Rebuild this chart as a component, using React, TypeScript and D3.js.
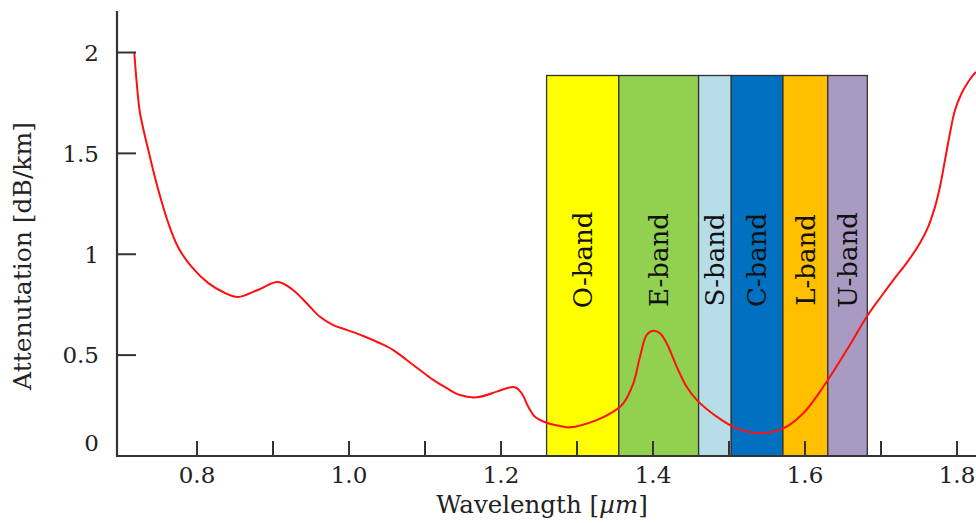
import React from "react";
import * as d3 from "d3";

const wavelengths = [
  0.7175, 0.7207, 0.725, 0.7359, 0.7491, 0.7622, 0.775, 0.793, 0.8145, 0.8368, 0.854,
  0.88, 0.9066, 0.9263, 0.9443, 0.9618, 0.9793, 0.997, 1.0188, 1.0408, 1.0583, 1.0759,
  1.0934, 1.1109, 1.1286, 1.1461, 1.168, 1.1943, 1.2075, 1.2184, 1.2272, 1.2359, 1.2447,
  1.2601, 1.2776, 1.2908, 1.3259, 1.3478, 1.3609, 1.3741, 1.3829, 1.3917, 1.4004, 1.4092,
  1.418, 1.4312, 1.4443, 1.4575, 1.4838, 1.5101, 1.5408, 1.5714, 1.5978, 1.6241, 1.6549,
  1.6812, 1.6987, 1.7162, 1.7338, 1.7513, 1.7622, 1.7711, 1.7776, 1.7842, 1.7908, 1.7974,
  1.8062, 1.8149, 1.8237, 1.837,
];
const attenuation = [
  1.999, 1.849, 1.7, 1.517, 1.318, 1.155, 1.036, 0.937, 0.858, 0.808, 0.788,
  0.823, 0.862, 0.823, 0.757, 0.69, 0.649, 0.625, 0.595, 0.559, 0.525, 0.476,
  0.426, 0.377, 0.336, 0.302, 0.291, 0.319, 0.336, 0.341, 0.311, 0.244, 0.195,
  0.165, 0.149, 0.142, 0.178, 0.22, 0.261, 0.36, 0.492, 0.6, 0.621, 0.608,
  0.559, 0.443, 0.343, 0.278, 0.195, 0.137, 0.113, 0.137, 0.212, 0.343, 0.525,
  0.69, 0.783, 0.872, 0.957, 1.056, 1.137, 1.236, 1.335, 1.467, 1.601, 1.715,
  1.799, 1.855, 1.898, 1.933,
];

const bandNames = ["O-band", "E-band", "S-band", "C-band", "L-band", "U-band"];
const bandStarts = [1.26, 1.355, 1.46, 1.503, 1.571, 1.63];
const bandEnds = [1.355, 1.46, 1.503, 1.571, 1.63, 1.682];
const bandColors = ["#FFFF00", "#92D050", "#B7DDE8", "#0070C0", "#FFC000", "#A89AC0"];
const bandTop = 1.886;

const xTicks = [0.8, 0.9, 1.0, 1.1, 1.2, 1.3, 1.4, 1.5, 1.6, 1.7, 1.8];
const xTickLabels = ["0.8", "", "1.0", "", "1.2", "", "1.4", "", "1.6", "", "1.8"];
const yTicks = [0, 0.5, 1, 1.5, 2];
const yTickLabels = ["0", "0.5", "1", "1.5", "2"];

const W = 976;
const H = 523;
const FONT = "'DejaVu Serif', serif";

export default function App() {
  const x = d3.scaleLinear().domain([0.8, 1.8]).range([197, 957]);
  const y = d3.scaleLinear().domain([0, 2]).range([456, 52.5]);
  const axisX = 117;
  const axisY = y(0);

  const pts: [number, number][] = wavelengths.map((w, i) => [w, attenuation[i]]);
  const line = d3
    .line<[number, number]>()
    .x((d) => x(d[0]))
    .y((d) => y(d[1]))
    .curve(d3.curveCatmullRom.alpha(0.5));

  return (
    <svg
      width={W}
      height={H}
      style={{ position: "absolute", left: 0, top: 0, background: "#fff" }}
    >
      {bandNames.map((name, i) => {
        const x0 = x(bandStarts[i]);
        const x1 = x(bandEnds[i]);
        return (
          <rect
            key={name}
            x={x0}
            y={y(bandTop)}
            width={x1 - x0}
            height={axisY - y(bandTop)}
            fill={bandColors[i]}
            stroke="#333"
            strokeWidth={1.3}
          />
        );
      })}
      {bandNames.map((name, i) => {
        const cx = (x(bandStarts[i]) + x(bandEnds[i])) / 2;
        const cy = 260;
        return (
          <text
            key={name + "t"}
            transform={`translate(${cx},${cy}) rotate(-90)`}
            textAnchor="middle"
            dy="0.36em"
            fontFamily={FONT}
            fontSize={26}
            fill="#111"
          >
            {name}
          </text>
        );
      })}
      <path d={line(pts) || ""} fill="none" stroke="#FF1010" strokeWidth={2} />
      <line x1={axisX} x2={axisX} y1={11} y2={axisY + 1} stroke="#333" strokeWidth={2.2} />
      <line x1={axisX - 1} x2={W} y1={axisY} y2={axisY} stroke="#333" strokeWidth={2.2} />
      {yTicks.map((t, i) => (
        <g key={"y" + t}>
          {t > 0 && (
            <line x1={axisX} x2={axisX + 19} y1={y(t)} y2={y(t)} stroke="#333" strokeWidth={2} />
          )}
          <text
            x={99}
            y={t === 0 ? y(t) - 13 : y(t)}
            dy="0.36em"
            textAnchor="end"
            fontFamily={FONT}
            fontSize={23}
            fill="#222"
          >
            {yTickLabels[i]}
          </text>
        </g>
      ))}
      {xTicks.map((t, i) => (
        <g key={"x" + t}>
          <line x1={x(t)} x2={x(t)} y1={axisY} y2={axisY - 15} stroke="#333" strokeWidth={2} />
          {xTickLabels[i] && (
            <text
              x={x(t)}
              y={475}
              dy="0.36em"
              textAnchor="middle"
              fontFamily={FONT}
              fontSize={23}
              fill="#222"
            >
              {xTickLabels[i]}
            </text>
          )}
        </g>
      ))}
      <text x={542} y={513} textAnchor="middle" fontFamily={FONT} fontSize={24.5} fill="#222">
        Wavelength [<tspan fontStyle="italic">µm</tspan>]
      </text>
      <text
        transform={`translate(22,256) rotate(-90)`}
        textAnchor="middle"
        dy="0.36em"
        fontFamily={FONT}
        fontSize={25}
        fill="#222"
      >
        Attenutation [dB/km]
      </text>
    </svg>
  );
}
